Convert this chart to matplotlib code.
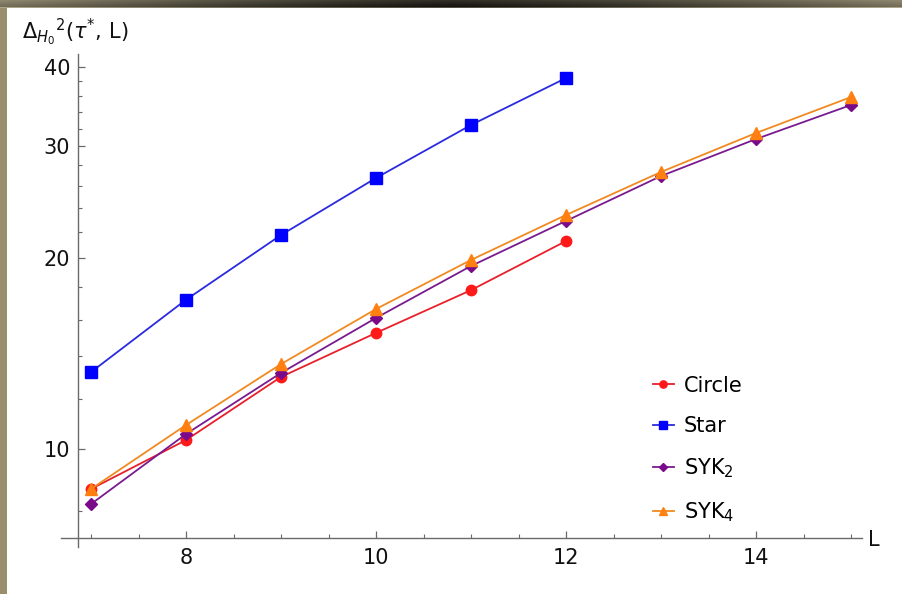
import matplotlib
matplotlib.use('Agg')
import matplotlib.pyplot as plt
import matplotlib.ticker as mticker
import numpy as np

# --- Dados ---
L_circle = [7, 8, 9, 10, 11, 12]
circle = [8.65, 10.33, 12.99, 15.24, 17.80, 21.27]

L_star = [7, 8, 9, 10, 11, 12]
star = [13.22, 17.19, 21.74, 26.74, 32.41, 38.43]

L_syk = [7, 8, 9, 10, 11, 12, 13, 14, 15]
syk2 = [8.19, 10.56, 13.18, 16.09, 19.43, 22.88, 26.93, 30.80, 34.85]
syk4 = [8.65, 10.91, 13.61, 16.62, 19.86, 23.38, 27.33, 31.48, 35.87]

y_major = [10, 20, 30, 40]
y_minor = [8, 12, 14, 16, 18, 22, 24, 26, 28, 32, 34, 36, 38]
x_major = [8, 10, 12, 14]

series = [
    (L_circle, circle, 'Circle', '#ff1a1a', '#e8202a', 'o', 7.5),
    (L_star, star, 'Star', '#0000ff', '#2a2ae0', 's', 8.5),
    (L_syk, syk2, 'SYK$_2$', '#7a0a8a', '#7a1a8f', 'D', 6.5),
    (L_syk, syk4, 'SYK$_4$', '#ff8010', '#f08a20', '^', 8.5),
]

fig = plt.figure(figsize=(9.02, 5.94), dpi=100)
fig.patch.set_facecolor('white')

# faixa escura no topo e faixa bege na esquerda
top = fig.add_axes([0, 1 - 8 / 594, 1, 8 / 594])
xs = np.linspace(-1, 1, 400)
rows = np.linspace(0, 1, 8)
shade = 0.06 + 0.35 * np.abs(xs)[None, :] ** 1.3 + 0.12 * (1 - rows[:, None])
shade[-1, :] += 0.25
rgb = np.stack([shade * 1.05, shade * 1.0, shade * 0.82], axis=-1).clip(0, 1)
top.imshow(rgb, aspect='auto', interpolation='bilinear')
top.axis('off')

side = fig.add_axes([0, 0, 7 / 902, 1 - 8 / 594])
side.set_facecolor('#9b8e6c')
side.set_xticks([])
side.set_yticks([])
for s in side.spines.values():
    s.set_visible(False)

ax = fig.add_axes([0.0672, 0.0786, 0.8889, 0.8312])
ax.set_facecolor('white')

for xv, yv, lab, mc, lc, mk, ms in series:
    ax.plot(xv, yv, color=lc, linewidth=1.3, marker=mk, markersize=ms,
            markerfacecolor=mc, markeredgecolor=mc, label=lab)

ax.set_yscale('log')
ax.set_xlim(6.68, 15.12)
ax.set_ylim(7.0, 42)

# eixos cruzados no estilo Mathematica
for k in ['top', 'right']:
    ax.spines[k].set_visible(False)
ax.spines['left'].set_position(('data', 6.86))
ax.spines['bottom'].set_position(('data', 7.244))
for k in ['left', 'bottom']:
    ax.spines[k].set_color('#6a6a6a')
    ax.spines[k].set_linewidth(1.0)

ax.yaxis.set_major_locator(mticker.FixedLocator(y_major))
ax.yaxis.set_minor_locator(mticker.FixedLocator(y_minor))
ax.yaxis.set_major_formatter(mticker.FixedFormatter([str(v) for v in y_major]))
ax.yaxis.set_minor_formatter(mticker.NullFormatter())
ax.xaxis.set_major_locator(mticker.FixedLocator(x_major))
ax.xaxis.set_minor_locator(mticker.MultipleLocator(0.5))

ax.tick_params(axis='both', which='both', direction='in', color='#6a6a6a',
               labelsize=15, labelcolor='#111111')
ax.tick_params(axis='both', which='major', length=5, width=0.9)
ax.tick_params(axis='both', which='minor', length=3, width=0.8)
ax.tick_params(axis='y', which='major', pad=5.5)
ax.tick_params(axis='x', which='major', pad=7)

fig.text(22 / 902, 1 - 32 / 594, r'$\Delta_{H_0}{}^{2}(\tau^{*},\,\mathrm{L})$',
         fontsize=15, ha='left', va='center', color='#111111')
fig.text(868 / 902, 1 - 540 / 594, 'L', fontsize=15, ha='left', va='center',
         color='#111111')

ax.legend(loc='upper left', bbox_to_anchor=(634 / 902, 1 - 357 / 594),
          bbox_transform=fig.transFigure, frameon=False, fontsize=15,
          handlelength=1.0, handletextpad=0.5, labelspacing=0.98,
          markerscale=0.7)

fig.savefig('out.png', dpi=100, facecolor=fig.get_facecolor())
